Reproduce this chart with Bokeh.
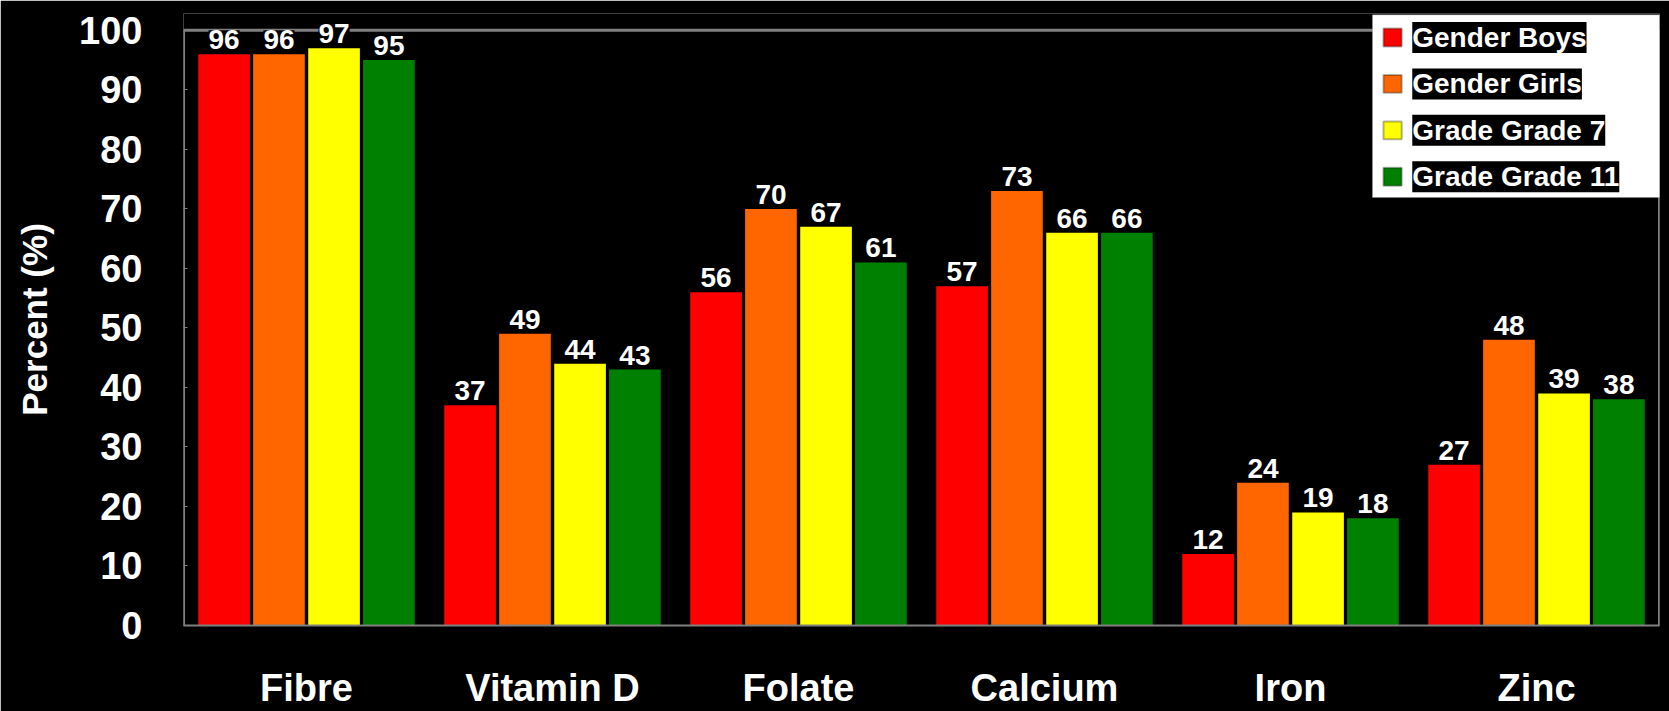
from bokeh.plotting import figure
from bokeh.models import (FactorRange, Range1d, ColumnDataSource, LabelSet, Label,
                          BoxAnnotation, FixedTicker)
from bokeh.core.properties import value
from bokeh.transform import dodge
from bokeh.embed import file_html
from bokeh.resources import INLINE

categories = ["Fibre", "Vitamin D", "Folate", "Calcium", "Iron", "Zinc"]
series_names = ["Gender Boys", "Gender Girls", "Grade Grade 7", "Grade Grade 11"]
boys = [96, 37, 56, 57, 12, 27]
girls = [96, 49, 70, 73, 24, 48]
grade7 = [97, 44, 67, 66, 19, 39]
grade11 = [95, 43, 61, 66, 18, 38]
series_values = [boys, girls, grade7, grade11]
colors = ["#FF0000", "#FF6600", "#FFFF00", "#008000"]
offsets = [-0.335, -0.112, 0.112, 0.335]
y_ticks = list(range(0, 101, 10))

FONT = "Liberation Sans"
GRAY = "#808080"

p = figure(width=1669, height=711, x_range=FactorRange(factors=categories, range_padding=0),
           y_range=Range1d(0, 102.83), output_backend="svg", toolbar_location=None,
           min_border_left=183, min_border_right=10, min_border_top=13, min_border_bottom=80,
           background_fill_color="black", border_fill_color="black")

p.outline_line_color = None
p.xgrid.grid_line_color = None
p.ygrid.grid_line_color = None

# plot-area border (left, top, right) limited to 0..100
p.segment(x0=[0, 0, 6], y0=[0, 100, 0], x1=[0, 6, 6], y1=[100, 100, 100],
          line_color=GRAY, line_width=3)

for name, vals, col, off in zip(series_names, series_values, colors, offsets):
    src = ColumnDataSource(dict(cat=categories, val=vals, txt=[str(v) for v in vals]))
    p.vbar(x=dodge("cat", off, range=p.x_range), top="val", width=0.21, bottom=0,
           source=src, fill_color=col, line_color=None)
    labels = LabelSet(x=dodge("cat", off, range=p.x_range), y="val", text="txt", source=src,
                      text_align="center", text_baseline="bottom", y_offset=5,
                      text_color="white", text_font=value(FONT), text_font_style="bold",
                      text_font_size="28px", background_fill_color="black")
    p.add_layout(labels)

# y axis
p.yaxis.ticker = FixedTicker(ticks=y_ticks)
p.yaxis.axis_line_color = None
p.yaxis.major_tick_line_color = GRAY
p.yaxis.major_tick_in = 4
p.yaxis.major_tick_out = 0
p.yaxis.minor_tick_line_color = None
p.yaxis.major_label_text_color = "white"
p.yaxis.major_label_text_font = FONT
p.yaxis.major_label_text_font_style = "bold"
p.yaxis.major_label_text_font_size = "38px"
p.yaxis.major_label_standoff = 41
p.yaxis.axis_label = "Percent (%)"
p.yaxis.axis_label_text_color = "white"
p.yaxis.axis_label_text_font = FONT
p.yaxis.axis_label_text_font_style = "bold"
p.yaxis.axis_label_text_font_size = "35px"
p.yaxis.axis_label_standoff = 22

# x axis
p.xaxis.axis_line_color = GRAY
p.xaxis.axis_line_width = 2
p.xaxis.major_tick_line_color = None
p.xaxis.minor_tick_line_color = None
p.xaxis.major_label_text_color = "white"
p.xaxis.major_label_text_font = FONT
p.xaxis.major_label_text_font_style = "bold"
p.xaxis.major_label_text_font_size = "38px"
p.xaxis.major_label_standoff = 35

# legend (manual, to reproduce black label boxes)
p.add_layout(BoxAnnotation(left=4.833, right=6.037, bottom=71.9, top=102.6,
                           fill_color="white", fill_alpha=1, line_color=GRAY, line_width=1))
row_y = [98.8, 91.0, 83.2, 75.4]
for name, col, ry in zip(series_names, colors, row_y):
    p.add_layout(BoxAnnotation(left=4.878, right=4.952, bottom=ry - 1.5, top=ry + 1.5,
                               fill_color=col, fill_alpha=1, line_color="black", line_width=2))
    p.add_layout(Label(x=4.995, y=ry, text=name, text_align="left", text_baseline="middle",
                       text_color="white", text_font=FONT, text_font_style="bold",
                       text_font_size="28px", background_fill_color="black"))

open("out.html", "w").write(file_html(p, INLINE))
